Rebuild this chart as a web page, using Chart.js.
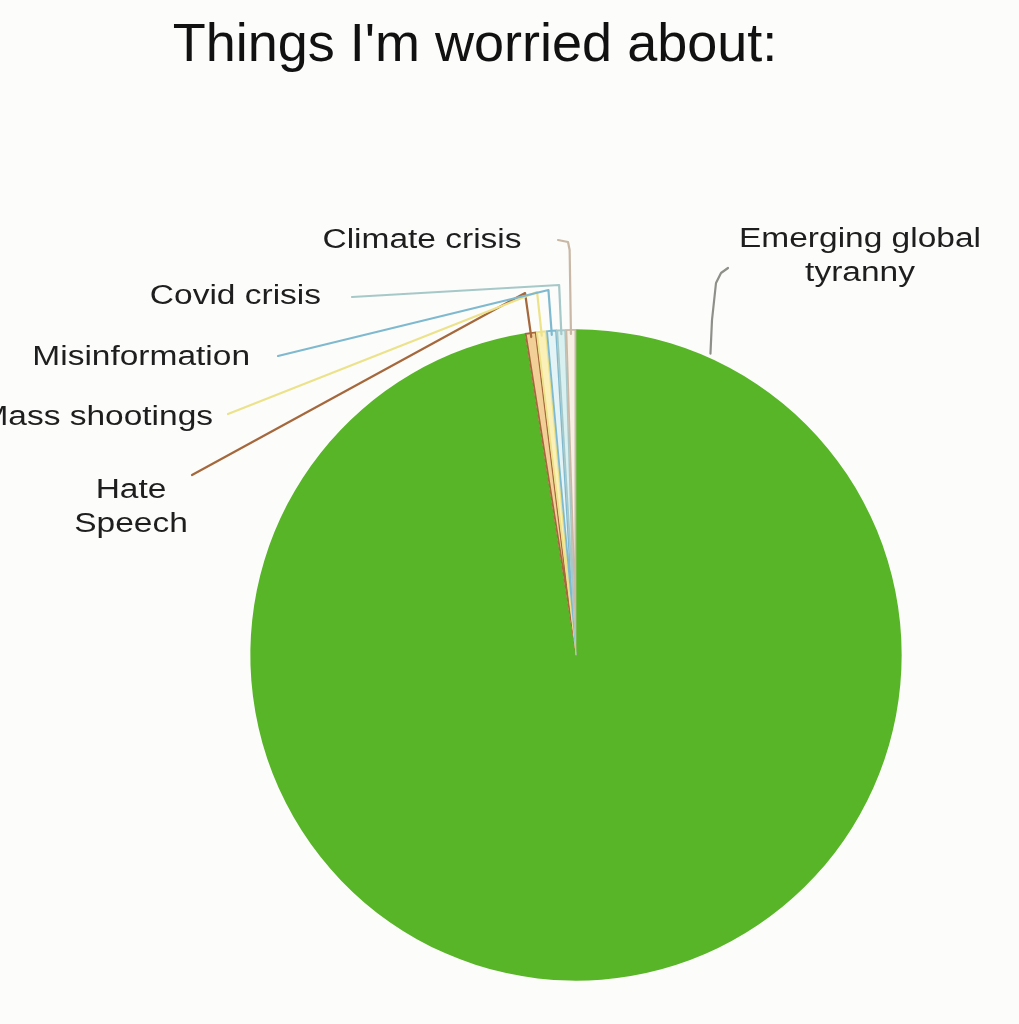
<!DOCTYPE html>
<html>
<head>
<meta charset="utf-8">
<script src="https://cdn.jsdelivr.net/npm/chart.js@4.4.1/dist/chart.umd.min.js"></script>
<style>
  html, body { margin: 0; padding: 0; background: #fcfcfa; }
  #wrap { width: 1019px; height: 1024px; position: relative; }
</style>
</head>
<body>
<div id="wrap"><canvas id="c" width="1019" height="1024"></canvas></div>
<script>
// ---- data ----
const categories = ["Emerging global tyranny", "Hate Speech", "Mass shootings", "Misinformation", "Covid crisis", "Climate crisis"];
const values = [97.5, 0.55, 0.5, 0.5, 0.45, 0.5];
const labelLines = [["Emerging global", "tyranny"], ["Hate", "Speech"], ["Mass shootings"], ["Misinformation"], ["Covid crisis"], ["Climate crisis"]];
const titleText = "Things I'm worried about:";

const fillColors = ["#57b527", "#f3cf98", "#fbf0b8", "#e4f4f6", "#d8f0f0", "#f6efe4"];
const lineColors = ["#8f8f8a", "#a5683c", "#ece28a", "#7fb9cf", "#a6c8c8", "#c9b8a6"];

// label text placement (style only): x, baseline y, alignment
const labelPos = [
  {x: 860, y: 247, align: "center"},
  {x: 131, y: 498, align: "center"},
  {x: 213, y: 425, align: "right"},
  {x: 250, y: 365, align: "right"},
  {x: 321, y: 304, align: "right"},
  {x: 422, y: 248, align: "center"}
];
// leader path: anchor fraction along slice, optional radial rise to y, then bend points
const leaders = [
  {frac: 0.0685, rise: null, pts: [[712, 320], [716, 283], [721, 273], [728, 268]]},
  {frac: 0.5, rise: 293, pts: [[192, 475]]},
  {frac: 0.5, rise: 292, pts: [[228, 414]]},
  {frac: 0.5, rise: 290, pts: [[278, 356]]},
  {frac: 0.5, rise: 285, pts: [[352, 297]]},
  {frac: 0.5, rise: 250, pts: [[568, 242], [558, 240]]}
];

const overlay = {
  id: "overlay",
  beforeDraw(chart) {
    const ctx = chart.ctx;
    ctx.save();
    ctx.fillStyle = "#fcfcfa";
    ctx.fillRect(0, 0, chart.width, chart.height);
    ctx.restore();
  },
  afterDatasetsDraw(chart) {
    const ctx = chart.ctx;
    const meta = chart.getDatasetMeta(0);
    ctx.save();
    meta.data.forEach((arc, i) => {
      const p = arc.getProps(["x", "y", "startAngle", "endAngle", "outerRadius"], true);
      const L = leaders[i];
      const a = p.startAngle + (p.endAngle - p.startAngle) * L.frac;
      const startR = i === 0 ? p.outerRadius + 4 : p.outerRadius * 0.985;
      ctx.beginPath();
      ctx.strokeStyle = lineColors[i];
      ctx.lineWidth = 2.2;
      ctx.lineJoin = "round";
      ctx.lineCap = "round";
      ctx.moveTo(p.x + Math.cos(a) * startR, p.y + Math.sin(a) * startR);
      if (L.rise !== null) {
        const t = (L.rise - p.y) / Math.sin(a);
        ctx.lineTo(p.x + Math.cos(a) * t, L.rise);
      }
      L.pts.forEach(pt => ctx.lineTo(pt[0], pt[1]));
      ctx.stroke();
    });
    // labels (horizontally widened like the source)
    const sx = 1.24;
    ctx.fillStyle = "#1e1e1e";
    ctx.font = "27px 'Liberation Sans', Arial, sans-serif";
    ctx.textBaseline = "alphabetic";
    labelLines.forEach((lines, i) => {
      const lp = labelPos[i];
      ctx.textAlign = lp.align;
      lines.forEach((ln, k) => {
        ctx.save();
        ctx.translate(lp.x, lp.y + k * 34);
        ctx.scale(sx, 1);
        ctx.fillText(ln, 0, 0);
        ctx.restore();
      });
    });
    // title
    ctx.font = "54px 'Liberation Sans', Arial, sans-serif";
    ctx.textAlign = "center";
    ctx.fillStyle = "#111";
    ctx.fillText(titleText, 475, 61);
    ctx.restore();
  }
};

new Chart(document.getElementById("c"), {
  type: "pie",
  data: {
    labels: categories,
    datasets: [{
      data: values,
      backgroundColor: fillColors,
      borderColor: lineColors.map((c, i) => i === 0 ? "#57b527" : c),
      borderWidth: [0, 1.5, 1.5, 1.5, 1.5, 1.5],
      borderAlign: "inner"
    }]
  },
  options: {
    responsive: false,
    animation: false,
    rotation: 0,
    layout: { padding: { left: 250, right: 117, top: 329, bottom: 43 } },
    plugins: { legend: { display: false }, tooltip: { enabled: false }, title: { display: false } }
  },
  plugins: [overlay]
});
</script>
</body>
</html>
